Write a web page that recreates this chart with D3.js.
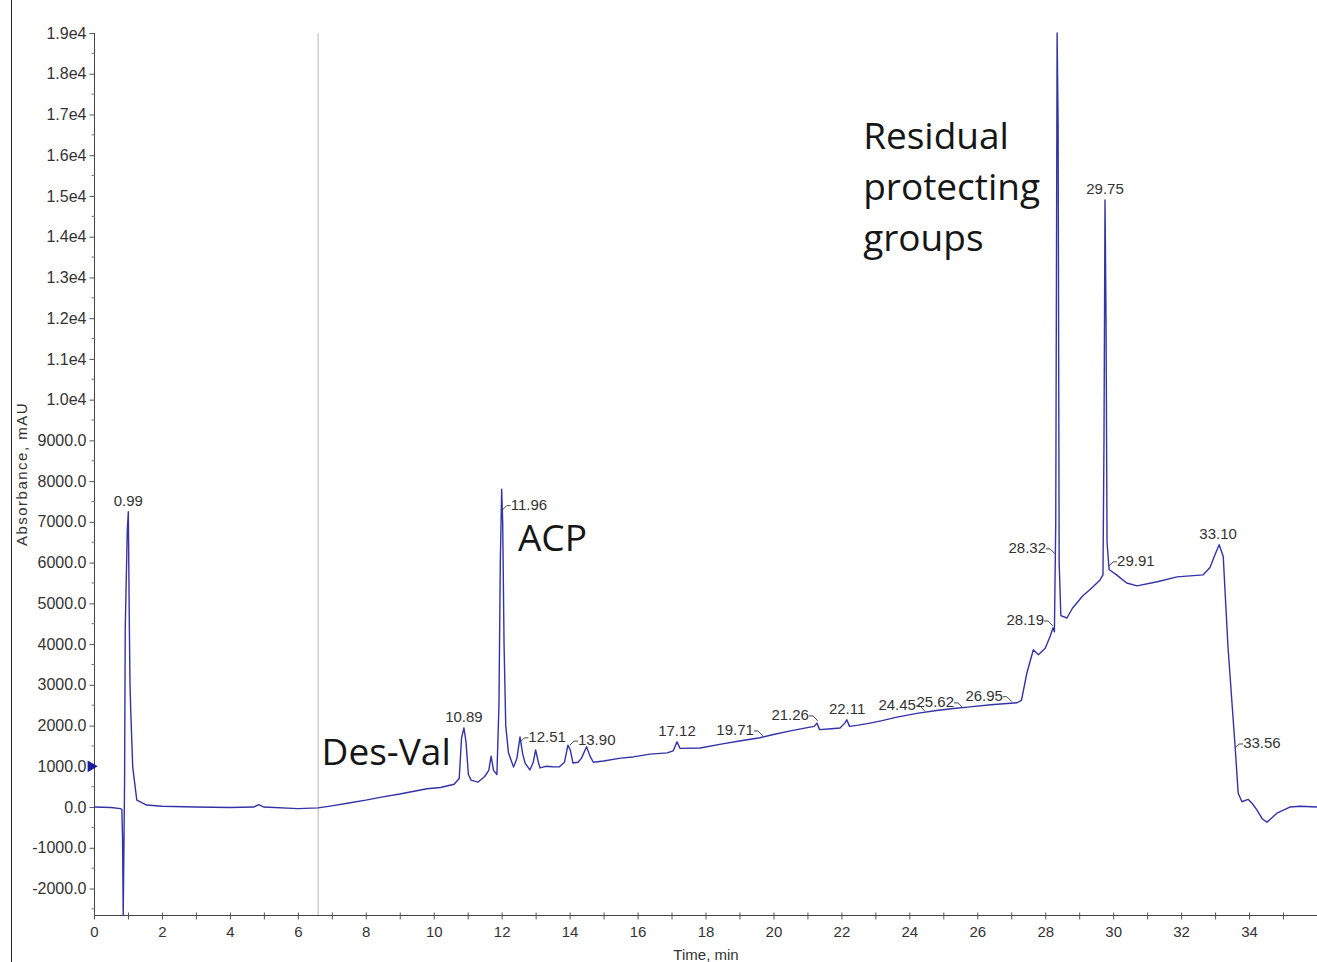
<!DOCTYPE html>
<html>
<head>
<meta charset="utf-8">
<script src="https://cdn.jsdelivr.net/npm/d3@7"></script>
<style>
  body { margin: 0; background: #fff; }
  svg { display: block; }
  .tick-label { font-family: "Liberation Sans", Arial, sans-serif; font-size: 15px; fill: #333; }
  .y-label { font-size: 16px; }
  .peak-label { font-family: "Liberation Sans", Arial, sans-serif; font-size: 15px; fill: #333; }
  .big-note { font-family: "Open Sans", sans-serif; font-size: 37px; fill: #161616; }
</style>
</head>
<body>
<div id="chart"></div>
<script>
// trace (time in min, absorbance in mAU)
const timeMin = [
  0, 0.5, 0.78, 0.82, 0.84, 0.86, 0.9, 0.92, 0.98, 1.01, 1.04, 1.06, 1.08, 1.14, 1.26, 1.55,
  2.0, 3.0, 4.0, 4.7, 4.85, 5.0, 6.0, 6.6, 7.0, 7.5, 8.0, 8.5, 9.0, 9.5, 9.8, 10.2, 10.6,
  10.75, 10.82, 10.89, 10.95, 11.02, 11.1, 11.3, 11.5, 11.62, 11.69, 11.76, 11.86, 11.92,
  11.96, 12.0, 12.03, 12.07, 12.12, 12.2, 12.35, 12.45, 12.54, 12.62, 12.69, 12.83, 12.93,
  13.0, 13.08, 13.13, 13.3, 13.5, 13.7, 13.85, 13.95, 14.02, 14.1, 14.25, 14.35, 14.5, 14.6,
  14.7, 15.0, 15.5, 15.87, 16.37, 16.87, 17.05, 17.16, 17.25, 17.84, 18.5, 19.0, 19.6, 20.0,
  20.5, 21.0, 21.2, 21.28, 21.36, 21.7, 21.96, 22.1, 22.16, 22.24, 22.5, 22.84, 23.2, 23.6,
  24.22, 24.8, 25.3, 25.79, 26.4, 27.17, 27.3, 27.46, 27.65, 27.8, 28.0, 28.14, 28.23, 28.27,
  28.31, 28.35, 28.38, 28.41, 28.46, 28.64, 28.8, 28.93, 29.1, 29.32, 29.6, 29.7, 29.73, 29.76,
  29.79, 29.82, 29.88, 30.1, 30.4, 30.7, 31.3, 31.88, 32.65, 32.85, 33.0, 33.12, 33.24, 33.38,
  33.59, 33.68, 33.79, 33.97, 34.1, 34.23, 34.4, 34.53, 34.65, 34.82, 35.2, 35.5, 36.0
];
const absorbance = [
  0, -10, -40, -60, -750, -2650, 600, 4400, 6800, 7250, 4500, 3000, 2400, 980, 170, 50,
  20, 0, -10, 0, 60, 0, -40, -20, 30, 100, 170, 250, 320, 400, 450, 480, 560,
  700, 1700, 1940, 1600, 800, 660, 610, 750, 900, 1250, 900, 800, 2500,
  6000, 7800, 7000, 4000, 2000, 1330, 980, 1200, 1720, 1300, 1080, 910, 1100,
  1400, 1100, 960, 1000, 990, 987, 1100, 1520, 1400, 1080, 1100, 1200, 1480, 1250,
  1100, 1130, 1200, 1230, 1300, 1330, 1380, 1600, 1440, 1450, 1550, 1620, 1700, 1780,
  1870, 1950, 1980, 2060, 1900, 1920, 1940, 2060, 2140, 1980, 2010, 2060, 2120, 2200,
  2300, 2370, 2420, 2460, 2510, 2560, 2620, 3290, 3860, 3740, 3900, 4180, 4400, 4300,
  7000, 19000, 16700, 6000, 4700, 4640, 4880, 5010, 5180, 5340, 5560, 5700, 9000, 14900,
  12000, 6500, 5830, 5700, 5500, 5430, 5530, 5650, 5700, 5880, 6200, 6440, 6150, 3930,
  1480, 340, 130, 190, 80, -70, -300, -370, -280, -150, 0, 20, 0
];

// peak labels: text, point on the trace the label refers to, placement
const peakText   = ['0.99', '10.89', '11.96', '12.51', '13.90', '17.12', '19.71', '21.26', '22.11',
                    '24.45', '25.62', '26.95', '28.19', '28.32', '29.75', '29.91', '33.10', '33.56'];
const peakTime   = [1.01, 10.89, 12.03, 12.55, 14.01, 17.16, 19.69, 21.31, 22.17,
                    24.46, 25.58, 27.02, 28.23, 28.29, 29.76, 29.88, 33.09, 33.59];
const peakValue  = [7250, 1940, 7300, 1600, 1520, 1600, 1720, 2090, 2140,
                    2335, 2410, 2560, 4420, 6190, 14900, 5920, 6440, 1450];
const peakPlace  = ['top', 'top', 'right', 'right', 'right', 'top', 'left', 'left', 'top',
                    'left', 'left', 'left', 'left', 'left', 'top', 'right', 'top', 'right'];

// big annotations: text lines, time / absorbance of the first baseline
const noteText  = [['Des-Val'], ['ACP'], ['Residual', 'protecting', 'groups']];
const noteTime  = [6.7, 12.48, 22.64];
const noteValue = [1030, 6290, 16150];

const yMajorTicks = d3.range(-2000, 19001, 1000);
const yMinorTicks = d3.range(-2500, 19000, 1000);
const xTicks = d3.range(0, 36, 1);
const markerValue = 1000;
const gradientMarkTime = 6.6;

const W = 1317, H = 962;
const plotLeft = 94, plotRight = 1317, plotTop = 33, plotBottom = 915;

const svg = d3.select('#chart').append('svg')
    .attr('width', W)
    .attr('height', H);

const x = d3.scaleLinear().domain([0, 36]).range([plotLeft, plotRight]);
const y = d3.scaleLinear().domain([-2650, 19000]).range([plotBottom, plotTop]);

// frame line at the very left of the screenshot
svg.append('line')
    .attr('x1', 11.5).attr('x2', 11.5).attr('y1', 0).attr('y2', H)
    .attr('stroke', '#222').attr('stroke-width', 1);

// grey marker line
svg.append('line')
    .attr('x1', x(gradientMarkTime)).attr('x2', x(gradientMarkTime))
    .attr('y1', plotTop).attr('y2', plotBottom)
    .attr('stroke', '#cfcfcf').attr('stroke-width', 1.5);

// y axis
const yAxis = d3.axisLeft(y)
    .tickValues(yMajorTicks)
    .tickSize(5)
    .tickPadding(3)
    .tickFormat(d => d >= 10000 ? (d / 10000).toFixed(1) + 'e4' : d.toFixed(1));

const gy = svg.append('g')
    .attr('transform', `translate(${plotLeft + 0.5},0)`)
    .call(yAxis);
gy.select('.domain').attr('d', `M0,${plotTop}V${plotBottom}`).attr('stroke', '#444');
gy.selectAll('.tick line').attr('stroke', '#555');
gy.selectAll('.tick text').attr('class', 'tick-label y-label');
gy.attr('font-family', null).attr('font-size', null);

gy.selectAll('.minor')
  .data(yMinorTicks)
  .join('line')
    .attr('class', 'minor')
    .attr('x1', -3).attr('x2', 0)
    .attr('y1', d => y(d)).attr('y2', d => y(d))
    .attr('stroke', '#777');

// x axis
const xAxis = d3.axisBottom(x)
    .tickValues(xTicks)
    .tickSize(4)
    .tickPadding(7)
    .tickFormat(d => d % 2 === 0 ? d : '');

const gx = svg.append('g')
    .attr('transform', `translate(0,${plotBottom + 0.5})`)
    .call(xAxis);
gx.select('.domain').attr('d', `M${plotLeft},0H${plotRight}`).attr('stroke', '#444');
gx.selectAll('.tick line').attr('y1', -3).attr('stroke', '#555');
gx.selectAll('.tick text').attr('class', 'tick-label');
gx.attr('font-family', null).attr('font-size', null);

// axis titles
svg.append('text')
    .attr('class', 'tick-label')
    .attr('transform', `translate(27,474) rotate(-90)`)
    .attr('text-anchor', 'middle')
    .style('letter-spacing', '1.5px')
    .text('Absorbance, mAU');

svg.append('text')
    .attr('class', 'tick-label')
    .attr('x', 706).attr('y', 960)
    .attr('text-anchor', 'middle')
    .text('Time, min');

// trace
const points = timeMin.map((t, i) => [t, absorbance[i]]);
const line = d3.line()
    .x(d => x(d[0]))
    .y(d => y(d[1]));

svg.append('defs').append('clipPath').attr('id', 'plotClip')
  .append('rect')
    .attr('x', plotLeft).attr('y', plotTop - 1)
    .attr('width', plotRight - plotLeft).attr('height', plotBottom - plotTop + 1);

svg.append('path')
    .datum(points)
    .attr('clip-path', 'url(#plotClip)')
    .attr('fill', 'none')
    .attr('stroke', '#3333a8')
    .attr('stroke-width', 1.4)
    .attr('stroke-linejoin', 'round')
    .attr('d', line);

// blue marker on y axis
svg.append('path')
    .attr('d', d3.symbol(d3.symbolTriangle, 60)())
    .attr('transform', `translate(${plotLeft - 3},${y(markerValue)}) rotate(90)`)
    .attr('fill', '#1b1b9c');

// peak labels
const peaks = peakText.map((t, i) => ({
  text: t, px: x(peakTime[i]), py: y(peakValue[i]), place: peakPlace[i]
}));

const pg = svg.append('g');
peaks.forEach(p => {
  if (p.place === 'top') {
    pg.append('text').attr('class', 'peak-label')
        .attr('x', p.px).attr('y', p.py - 6)
        .attr('text-anchor', 'middle')
        .text(p.text);
  } else if (p.place === 'right') {
    pg.append('path')
        .attr('d', `M${p.px},${p.py}L${p.px + 4},${p.py - 4}H${p.px + 8}`)
        .attr('fill', 'none').attr('stroke', '#444');
    pg.append('text').attr('class', 'peak-label')
        .attr('x', p.px + 8).attr('y', p.py)
        .text(p.text);
  } else {
    pg.append('path')
        .attr('d', `M${p.px - 9},${p.py - 6}L${p.px - 5},${p.py - 6}L${p.px},${p.py - 1}`)
        .attr('fill', 'none').attr('stroke', '#444');
    pg.append('text').attr('class', 'peak-label')
        .attr('x', p.px - 9).attr('y', p.py - 2)
        .attr('text-anchor', 'end')
        .text(p.text);
  }
});

// big annotations
noteText.forEach((lines, i) => {
  const t = svg.append('text')
      .attr('class', 'big-note')
      .attr('x', x(noteTime[i]))
      .attr('y', y(noteValue[i]));
  lines.forEach((s, j) => {
    t.append('tspan')
        .attr('x', x(noteTime[i]))
        .attr('dy', j === 0 ? 0 : 51)
        .text(s);
  });
});
</script>
</body>
</html>
